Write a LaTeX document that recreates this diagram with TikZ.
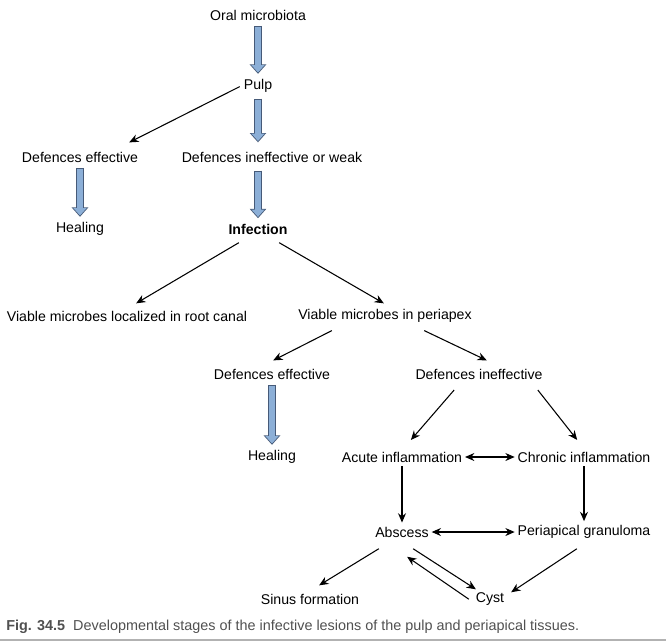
\documentclass[tikz,border=0pt]{standalone}
\usepackage{fontspec}
\setmainfont{Liberation Sans}
\usetikzlibrary{arrows.meta}
\definecolor{pipeblue}{RGB}{140,175,215}
\definecolor{pipeedge}{RGB}{70,90,120}
\definecolor{capgray}{RGB}{80,80,80}
\tikzset{
  lbl/.style={font=\fontsize{10.6}{12}\selectfont, inner sep=2pt},
  thin arrow/.style={-{Stealth[length=7pt,width=6pt]}, line width=0.8pt, shorten >=1pt, shorten <=1pt},
  both arrow/.style={{Stealth[length=7pt,width=6pt]}-{Stealth[length=7pt,width=6pt]}, line width=0.8pt},
  pipe/.style={-{Triangle[length=7pt,width=12pt]}, line width=6pt, draw=pipeedge, shorten >=2pt, shorten <=2pt},
  pipe inner/.style={-{Triangle[length=5.5pt,width=9.5pt]}, line width=4.6pt, draw=pipeblue, shorten >=3pt, shorten <=2.7pt},
}
\newcommand{\pipearrow}[2]{%
  \draw[pipe] (#1) -- (#2);
  \draw[pipe inner] (#1) -- (#2);}
\begin{document}
\begin{tikzpicture}[x=0.75pt,y=-0.75pt]
\useasboundingbox (0,0) rectangle (666,643);
%nodes
\node[lbl] (oral) at (258,15) {Oral microbiota};
\node[lbl] (pulp) at (258,86) {Pulp};
\node[lbl] (defeff) at (80,157) {Defences effective};
\node[lbl] (defweak) at (272,157) {Defences ineffective or weak};
\node[lbl] (heal) at (80,229) {Healing};
\node[lbl] (infect) at (258,229) {\bfseries Infection};
\node[lbl] (canal) at (127,316) {Viable microbes localized in root canal};
\node[lbl] (periapex) at (385,316) {Viable microbes in periapex};
\node[lbl] (defeff2) at (272,374) {Defences effective};
\node[lbl] (defineff) at (479,374) {Defences ineffective};
\node[lbl] (heal2) at (272,457) {Healing};
\node[lbl] (acute) at (402,457) {Acute inflammation};
\node[lbl] (chronic) at (584,457) {Chronic inflammation};
\node[lbl] (abscess) at (402,532) {Abscess};
\node[lbl] (granuloma) at (584,532) {Periapical granuloma};
\node[lbl] (sinus) at (310,599) {Sinus formation};
\node[lbl] (cyst) at (490,599) {Cyst};
%blue arrows
\pipearrow{oral}{pulp}
\pipearrow{258,96}{258,145}
\pipearrow{defeff}{heal}
\pipearrow{258,168}{infect}
\pipearrow{defeff2}{heal2}
%thin arrows
\draw[thin arrow] (pulp.west) -- (128,143);
\draw[thin arrow] (240,242) -- (135,304);
\draw[thin arrow] (278,242) -- (385,304);
\draw[thin arrow] (333,330) -- (272,361);
\draw[thin arrow] (423,330) -- (488,361);
\draw[thin arrow] (455,389) -- (410,441);
\draw[thin arrow] (537,389) -- (578,441);
\draw[both arrow] (acute) -- (chronic);
\draw[thin arrow] (acute) -- (abscess);
\draw[thin arrow] (chronic) -- (granuloma);
\draw[both arrow] (abscess) -- (granuloma);
\draw[thin arrow] (380,548) -- (318,586);
\draw[thin arrow] (412,548) -- (477,590);
\draw[thin arrow] (470,600) -- (406,556);
\draw[thin arrow] (578,548) -- (510,593);
%caption
\node[anchor=west, font=\fontsize{10.8}{12}\selectfont, text=capgray, inner sep=0pt] (cap) at (6,627)
  {\textbf{Fig. 34.5}\ \ Developmental stages of the infective lesions of the pulp and periapical tissues.};
\draw[gray!60, line width=0.8pt] (0,640) -- (666,640);
\end{tikzpicture}
\end{document}
